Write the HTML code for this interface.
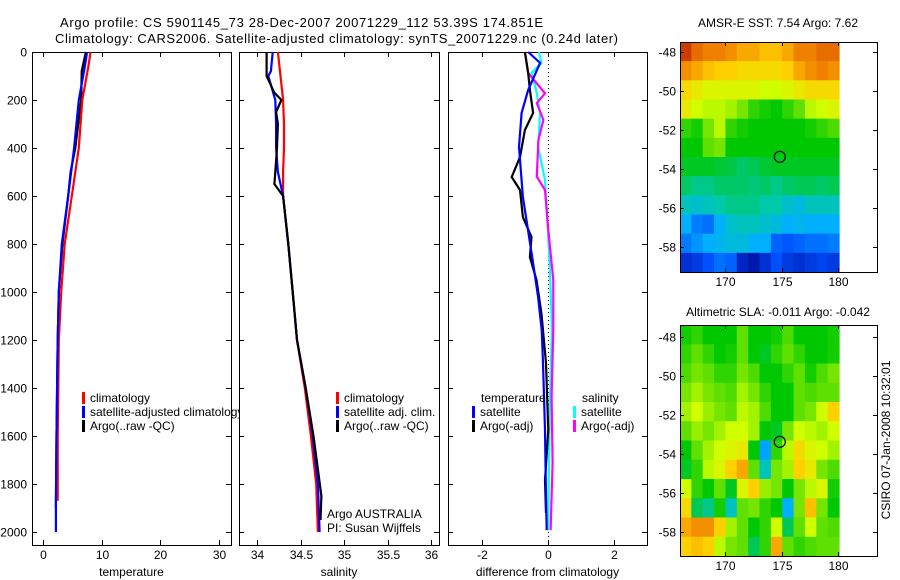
<!DOCTYPE html>
<html><head><meta charset="utf-8"><style>
body{margin:0;background:#fff;}
svg{display:block;font-family:"Liberation Sans",sans-serif;}
</style></head><body>
<svg id="c" width="900" height="580" viewBox="0 0 900 580" xmlns="http://www.w3.org/2000/svg">
<rect width="900" height="580" fill="#fff"/>
<text x="60" y="27" font-size="13" textLength="483">Argo profile: CS 5901145_73 28-Dec-2007 20071229_112 53.39S 174.851E</text>
<text x="55" y="43" font-size="13" textLength="563">Climatology: CARS2006. Satellite-adjusted climatology: synTS_20071229.nc (0.24d later)</text>
<g id="g"></g>
</svg>
<script>
// ---------- data ----------
const depthTicks=[0,200,400,600,800,1000,1200,1400,1600,1800,2000];
const tempTicks=[0,10,20,30];
const salTicks=[34,34.5,35,35.5,36];
const diffTicks=[-2,0,2];
const tClimDepth=[0,50,200,400,600,800,1000,1200,1400,1600,1870];
const tClim=[8.1,7.8,6.7,6.1,4.9,3.7,3.1,2.7,2.6,2.5,2.5];
const tSatDepth=[0,50,200,400,600,800,1000,1200,1400,1600,1880,2000];
const tSat=[7.5,7.2,6.1,5.3,4.3,3.2,2.7,2.5,2.4,2.3,2.2,2.2];
const tArgoDepth=[0,80,200,300,400,500,600,800,1000,1200,1400,1600,1900];
const tArgo=[7.3,6.6,6.5,6.0,5.5,4.7,4.3,3.3,2.7,2.5,2.4,2.3,2.2];
const sClimDepth=[0,100,200,300,400,500,600,800,1000,1200,1400,1600,1800,2000];
const sClim=[34.24,34.27,34.30,34.31,34.31,34.30,34.30,34.36,34.41,34.46,34.55,34.62,34.68,34.70];
const sSatDepth=[0,80,100,200,300,400,500,600,800,1000,1200,1400,1600,1800,2000];
const sSat=[34.18,34.16,34.13,34.21,34.22,34.22,34.24,34.30,34.36,34.41,34.46,34.56,34.64,34.70,34.72];
const sArgoDepth=[0,100,170,200,250,300,400,500,550,600,800,1000,1200,1400,1600,1850,1950];
const sArgo=[34.11,34.11,34.20,34.28,34.22,34.24,34.23,34.21,34.20,34.30,34.36,34.41,34.46,34.56,34.65,34.74,34.73];
const dSatTDepth=[0,46,158,254,396,604,879,1021,1158,1296,1575,1854,1992];
const dSatT=[-0.6,-0.24,-0.6,-0.8,-0.88,-0.76,-0.45,-0.3,-0.19,-0.15,-0.09,-0.06,-0.04];
const dArgoTDepth=[0,88,158,254,325,438,521,575,688,771,854,950,1088,1296,1575,1783,1921];
const dArgoT=[-0.7,-0.6,-0.55,-0.45,-0.7,-0.85,-1.1,-0.85,-0.76,-0.5,-0.55,-0.35,-0.2,-0.06,0.01,-0.09,-0.06];
const dSatSDepth=[0,46,88,158,254,396,533,671,879,1158,1436,1713,1992];
const dSatS=[-0.27,-0.2,-0.5,-0.36,-0.24,-0.3,-0.09,-0.03,0.05,0.12,0.06,0.03,0.0];
const dArgoSDepth=[0,88,172,213,283,367,519,575,742,950,1158,1436,1713,1992];
const dArgoS=[-0.7,-0.6,-0.09,-0.34,-0.14,-0.29,-0.34,-0.09,0.01,0.16,0.16,0.11,0.14,0.08];
const lonTicks=[170,175,180];
const latTicks=[-48,-50,-52,-54,-56,-58];
const sstGrid=[
[0.97,0.92,0.9,0.9,0.88,0.85,0.85,0.82,0.82,0.85,0.9,0.9,0.92,0.92],
[0.88,0.85,0.82,0.8,0.8,0.78,0.78,0.78,0.78,0.8,0.85,0.88,0.9,0.88],
[0.78,0.75,0.72,0.72,0.72,0.72,0.72,0.7,0.7,0.72,0.75,0.78,0.78,0.78],
[0.75,0.7,0.68,0.68,0.66,0.62,0.55,0.52,0.5,0.55,0.6,0.68,0.7,0.72],
[0.55,0.52,0.62,0.68,0.55,0.52,0.5,0.5,0.5,0.5,0.5,0.52,0.55,0.58],
[0.5,0.5,0.6,0.62,0.5,0.5,0.5,0.5,0.5,0.5,0.5,0.5,0.5,0.5],
[0.48,0.48,0.48,0.47,0.46,0.44,0.45,0.47,0.48,0.48,0.48,0.48,0.48,0.48],
[0.44,0.42,0.42,0.44,0.44,0.44,0.43,0.44,0.42,0.44,0.45,0.45,0.44,0.45],
[0.38,0.36,0.38,0.4,0.42,0.42,0.42,0.4,0.4,0.36,0.34,0.38,0.38,0.38],
[0.3,0.22,0.2,0.3,0.36,0.38,0.38,0.36,0.34,0.3,0.32,0.3,0.3,0.3],
[0.22,0.26,0.3,0.32,0.34,0.34,0.3,0.3,0.18,0.16,0.18,0.2,0.2,0.22],
[0.08,0.1,0.15,0.2,0.18,0.05,0.02,0.08,0.15,0.1,0.08,0.1,0.12,0.1]];
const slaGrid=[
[0.52,0.55,0.5,0.5,0.5,0.6,0.5,0.5,0.52,0.58,0.5,0.5,0.5,0.52],
[0.55,0.6,0.55,0.5,0.52,0.6,0.5,0.48,0.55,0.6,0.55,0.5,0.5,0.52],
[0.58,0.62,0.6,0.55,0.55,0.62,0.58,0.5,0.5,0.55,0.6,0.52,0.58,0.62],
[0.62,0.66,0.62,0.6,0.58,0.66,0.62,0.55,0.5,0.5,0.6,0.58,0.6,0.6],
[0.66,0.7,0.65,0.62,0.6,0.68,0.66,0.58,0.5,0.5,0.6,0.62,0.7,0.8],
[0.6,0.65,0.62,0.66,0.7,0.7,0.66,0.5,0.48,0.62,0.7,0.68,0.66,0.7],
[0.5,0.6,0.66,0.7,0.72,0.75,0.5,0.28,0.55,0.68,0.78,0.72,0.7,0.66],
[0.48,0.55,0.68,0.72,0.8,0.85,0.6,0.38,0.62,0.66,0.8,0.75,0.62,0.58],
[0.7,0.55,0.5,0.6,0.48,0.72,0.8,0.65,0.62,0.5,0.62,0.68,0.72,0.52],
[0.78,0.45,0.42,0.52,0.38,0.6,0.62,0.55,0.5,0.3,0.62,0.82,0.62,0.5],
[0.85,0.88,0.88,0.8,0.66,0.6,0.5,0.55,0.7,0.45,0.6,0.7,0.6,0.58],
[0.8,0.82,0.8,0.68,0.62,0.6,0.45,0.55,0.85,0.6,0.55,0.58,0.6,0.6]];
const floatLon=174.85, floatLat=-53.39;

// ---------- helpers ----------
const NS="http://www.w3.org/2000/svg";
const G=document.getElementById('g');
function mk(tag,attrs,parent){const e=document.createElementNS(NS,tag);for(const k in attrs)e.setAttribute(k,attrs[k]);(parent||G).appendChild(e);return e;}
function txt(x,y,s,anchor,size,name){const t=mk('text',{x:x,y:y,'font-size':size||12,'text-anchor':anchor||'start'});t.textContent=s;


return t;}
const TOP=52,BOT=545;
const yD=d=>TOP+d*0.24;
const panels=[
 {x0:32,x1:231,fx:v=>43+v*5.87,ticks:tempTicks,label:'temperature',name:'temperature-panel'},
 {x0:239,x1:439,fx:v=>257+(v-34)*87,ticks:salTicks,label:'salinity',name:'salinity-panel'},
 {x0:448,x1:647,fx:v=>548+v*33,ticks:diffTicks,label:'difference from climatology',name:'difference-panel'}];
function drawPanel(p,i){
 const r=mk('rect',{x:p.x0+0.5,y:TOP+0.5,width:p.x1-p.x0,height:BOT-TOP,fill:'#fff',stroke:'#000','stroke-width':1});
 
 
 p.ticks.forEach(v=>{const x=Math.round(p.fx(v))+0.5;
  mk('line',{x1:x,x2:x,y1:TOP,y2:TOP+5,stroke:'#000'});
  mk('line',{x1:x,x2:x,y1:BOT,y2:BOT-5,stroke:'#000'});
  txt(x,559,String(v),'middle',12,'x-tick-label');});
 depthTicks.forEach(d=>{const y=Math.round(yD(d))+0.5;
  mk('line',{x1:p.x0,x2:p.x0+5,y1:y,y2:y,stroke:'#000'});
  mk('line',{x1:p.x1,x2:p.x1-5,y1:y,y2:y,stroke:'#000'});
  if(i===0) txt(27,y+4,String(d),'end',12,'y-tick-label');});
 txt((p.x0+p.x1)/2,576,p.label,'middle',12,'x-axis-title');
}
function line(p,xs,ds,color,name){
 const pts=xs.map((v,k)=>p.fx(v).toFixed(1)+','+yD(ds[k]).toFixed(1)).join(' ');
 const l=mk('polyline',{points:pts,fill:'none',stroke:color,'stroke-width':2.2});
 
 
}
function legend(x,y,color,s,name){
 mk('rect',{x:x,y:y-6,width:3,height:12,fill:color});
 txt(x+8,y+4,s,'start',12,name);
}
// panel 1
drawPanel(panels[0],0);
line(panels[0],tArgo,tArgoDepth,'#000','temp-argo-line');
line(panels[0],tClim,tClimDepth,'#f00','temp-climatology-line');
line(panels[0],tSat,tSatDepth,'#00f','temp-satellite-line');
legend(82,398,'#f00','climatology','legend-climatology');
legend(82,412,'#00f','satellite-adjusted climatology','legend-satellite-adjusted');
legend(82,426,'#000','Argo(..raw -QC)','legend-argo');
// panel 2
drawPanel(panels[1],1);
line(panels[1],sClim,sClimDepth,'#f00','sal-climatology-line');
line(panels[1],sSat,sSatDepth,'#00f','sal-satellite-line');
line(panels[1],sArgo,sArgoDepth,'#000','sal-argo-line');
legend(336,398,'#f00','climatology','legend-sal-climatology');
legend(336,412,'#00f','satellite adj. clim.','legend-sal-satellite');
legend(336,426,'#000','Argo(..raw -QC)','legend-sal-argo');
txt(327,518,'Argo AUSTRALIA','start',12,'float-owner-label');
txt(327,532,'PI: Susan Wijffels','start',12,'pi-label');
// panel 3
drawPanel(panels[2],2);
mk('line',{x1:548.5,x2:548.5,y1:TOP,y2:BOT,stroke:'#000','stroke-dasharray':'1,3'});
line(panels[2],dSatS,dSatSDepth,'#0ff','diff-sal-satellite-line');
line(panels[2],dArgoS,dArgoSDepth,'#f0f','diff-sal-argo-line');
line(panels[2],dArgoT,dArgoTDepth,'#000','diff-temp-argo-line');
line(panels[2],dSatT,dSatTDepth,'#00f','diff-temp-satellite-line');
txt(481,402,'temperature','start',12,'legend-temperature-heading');
legend(472,412,'#00f','satellite','legend-temp-satellite');
legend(472,426,'#000','Argo(-adj)','legend-temp-argo');
txt(582,402,'salinity','start',12,'legend-salinity-heading');
legend(573,412,'#0ff','satellite','legend-sal-sat');
legend(573,426,'#f0f','Argo(-adj)','legend-sal-argo-adj');

// ---------- maps ----------
const stops=[[0,[0,16,160]],[0.15,[0,80,255]],[0.3,[0,176,255]],[0.4,[0,200,170]],[0.5,[0,200,0]],[0.6,[96,224,0]],[0.7,[208,255,0]],[0.8,[255,208,0]],[0.9,[240,128,0]],[1,[192,32,0]]];
function cmap(v){for(let i=1;i<stops.length;i++){if(v<=stops[i][0]){const a=stops[i-1],b=stops[i],t=(v-a[0])/(b[0]-a[0]);
 return 'rgb('+a[1].map((c,k)=>Math.round(c+(b[1][k]-c)*t)).join(',')+')';}}return 'rgb(192,32,0)';}
function drawMap(grid,top,bot,lat48y,title,titleY,name){
 const L=680,R=877,imgR=839;
 const fx=lon=>725+(lon-170)*11.3;
 const fy=lat=>lat48y+(-48-lat)*19.45;
 txt(778,titleY,title,'middle',12,name+'-title');
 const rows=grid.length,cols=grid[0].length;
 const cw=(imgR-L)/cols, rh=(bot-top)/rows;
 grid.forEach((row,r)=>row.forEach((v,c)=>{
  const e=mk('rect',{x:(L+c*cw).toFixed(2),y:(top+r*rh).toFixed(2),width:(cw+0.6).toFixed(2),height:(rh+0.6).toFixed(2),fill:cmap(v)});
  
  
 }));
 const b=mk('rect',{x:L+0.5,y:top+0.5,width:R-L,height:bot-top,fill:'none',stroke:'#000'});
 
 
 lonTicks.forEach(v=>{const x=Math.round(fx(v))+0.5;
  mk('line',{x1:x,x2:x,y1:top,y2:top+4,stroke:'#000'});
  mk('line',{x1:x,x2:x,y1:bot,y2:bot-4,stroke:'#000'});
  txt(x,bot+14,String(v),'middle',12,name+'-lon-label');});
 latTicks.forEach(v=>{const y=Math.round(fy(v))+0.5;
  mk('line',{x1:L,x2:L+4,y1:y,y2:y,stroke:'#000'});
  mk('line',{x1:R,x2:R-4,y1:y,y2:y,stroke:'#000'});
  txt(676,y+4,String(v),'end',12,name+'-lat-label');});
 const c=mk('circle',{cx:fx(floatLon),cy:fy(floatLat),r:5.5,fill:'none',stroke:'#000','stroke-width':1.2});
 
 
}
drawMap(sstGrid,42,272,52,'AMSR-E SST: 7.54  Argo: 7.62',27,'sst-map');
drawMap(slaGrid,325,556,337,'Altimetric SLA: -0.011  Argo: -0.042',316,'sla-map');
const stamp=txt(0,0,'CSIRO 07-Jan-2008 10:32:01','middle',12,'timestamp-label');
stamp.setAttribute('transform','translate(890,440) rotate(-90)');
</script>
</body></html>
